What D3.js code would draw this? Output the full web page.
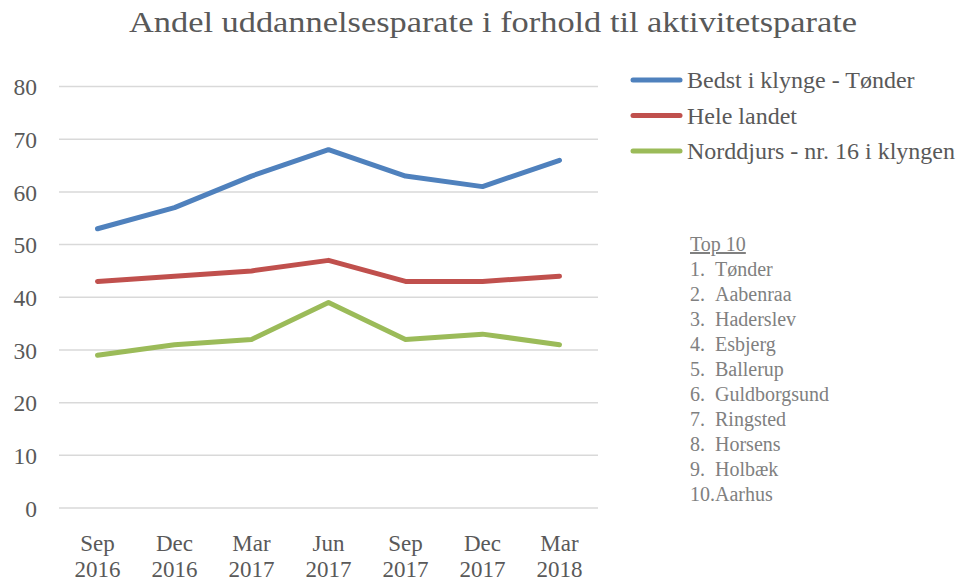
<!DOCTYPE html>
<html>
<head>
<meta charset="utf-8">
<script src="https://cdn.jsdelivr.net/npm/d3@7"></script>
<style>
    body { margin: 0; background: #fff; }
    svg text { font-family: "Liberation Serif", "DejaVu Serif", serif; fill: #595959; }
</style>
</head>
<body>
<div id="chart"></div>
<script>
/*
 * Chart data.
 */
var periods = ['Sep 2016', 'Dec 2016', 'Mar 2017', 'Jun 2017', 'Sep 2017', 'Dec 2017', 'Mar 2018'];
var bestValues = [53, 57, 63, 68, 63, 61, 66];
var countryValues = [43, 44, 45, 47, 43, 43, 44];
var norddjursValues = [29, 31, 32, 39, 32, 33, 31];
var seriesNames = ['Bedst i klynge - Tønder', 'Hele landet', 'Norddjurs - nr. 16 i klyngen'];
var yTicks = [0, 10, 20, 30, 40, 50, 60, 70, 80];
var topTen = ['Tønder', 'Aabenraa', 'Haderslev', 'Esbjerg', 'Ballerup', 'Guldborgsund', 'Ringsted', 'Horsens', 'Holbæk', 'Aarhus'];

var colors = ['#4f81bd', '#c0504d', '#9bbb59'];
var series = [bestValues, countryValues, norddjursValues].map(function(values, i) {
    return { name: seriesNames[i], color: colors[i], values: values };
});

var width = 971, height = 582;
var margin = { top: 86.5, right: 373, bottom: 74, left: 59 };

var svg = d3.select('#chart').append('svg')
    .attr('width', width)
    .attr('height', height);

/*
 * Title.
 */
svg.append('text')
    .attr('x', 493)
    .attr('y', 32)
    .attr('text-anchor', 'middle')
    .attr('textLength', 728)
    .attr('lengthAdjust', 'spacingAndGlyphs')
    .style('font-size', '30px')
    .text('Andel uddannelsesparate i forhold til aktivitetsparate');

/*
 * Scales.
 */
var x = d3.scaleBand()
    .domain(periods)
    .range([margin.left, width - margin.right]);

var y = d3.scaleLinear()
    .domain([0, 80])
    .range([height - margin.bottom, margin.top]);

/*
 * Grid lines.
 */
svg.append('g')
    .selectAll('line')
    .data(yTicks)
    .join('line')
    .attr('x1', x.range()[0])
    .attr('x2', x.range()[1])
    .attr('y1', d => y(d))
    .attr('y2', d => y(d))
    .attr('stroke', '#d9d9d9')
    .attr('stroke-width', 1.5);

/*
 * Y axis labels.
 */
var yAxis = svg.append('g')
    .attr('transform', 'translate(37,0)')
    .call(d3.axisLeft(y).tickValues(yTicks).tickSize(0).tickPadding(0));
yAxis.select('.domain').remove();
yAxis.selectAll('text')
    .attr('dy', '0.35em')
    .style('font-size', '23.5px');

/*
 * X axis labels, two lines each.
 */
var xAxis = svg.append('g')
    .attr('transform', 'translate(0,' + (height - margin.bottom) + ')')
    .call(d3.axisBottom(x).tickSize(0).tickFormat(''));
xAxis.select('.domain').remove();
xAxis.selectAll('.tick').each(function(d) {
    var parts = d.split(' ');
    var text = d3.select(this).append('text')
        .attr('text-anchor', 'middle')
        .style('font-size', '23px');
    text.append('tspan').attr('x', 0).attr('y', 43).text(parts[0]);
    text.append('tspan').attr('x', 0).attr('y', 69).text(parts[1]);
});

/*
 * Lines.
 */
var line = d3.line()
    .x((d, i) => x(periods[i]) + x.bandwidth() / 2)
    .y(d => y(d));

svg.append('g')
    .selectAll('path')
    .data(series)
    .join('path')
    .attr('d', d => line(d.values))
    .attr('fill', 'none')
    .attr('stroke', d => d.color)
    .attr('stroke-width', 5)
    .attr('stroke-linecap', 'round')
    .attr('stroke-linejoin', 'round');

/*
 * Legend.
 */
var legend = svg.append('g')
    .attr('transform', 'translate(631,80)')
    .selectAll('g')
    .data(series)
    .join('g')
    .attr('transform', (d, i) => 'translate(0,' + i * 35.5 + ')');
legend.append('line')
    .attr('x1', 2)
    .attr('x2', 49)
    .attr('stroke', d => d.color)
    .attr('stroke-width', 5)
    .attr('stroke-linecap', 'round');
legend.append('text')
    .attr('x', 56)
    .attr('dy', '0.35em')
    .style('font-size', '24px')
    .text(d => d.name);

/*
 * Top 10 list.
 */
var list = svg.append('g')
    .attr('transform', 'translate(690,251)');
list.append('text')
    .style('font-size', '20px')
    .style('fill', '#808080')
    .style('text-decoration', 'underline')
    .text('Top 10');
var items = list.selectAll('g')
    .data(topTen)
    .join('g')
    .attr('transform', (d, i) => 'translate(0,' + (i + 1) * 25 + ')');
items.append('text')
    .style('font-size', '20px')
    .style('fill', '#808080')
    .text((d, i) => i < 9 ? (i + 1) + '.' : (i + 1) + '.' + d);
items.filter((d, i) => i < 9).append('text')
    .attr('x', 25)
    .style('font-size', '20px')
    .style('fill', '#808080')
    .text(d => d);
</script>
</body>
</html>
